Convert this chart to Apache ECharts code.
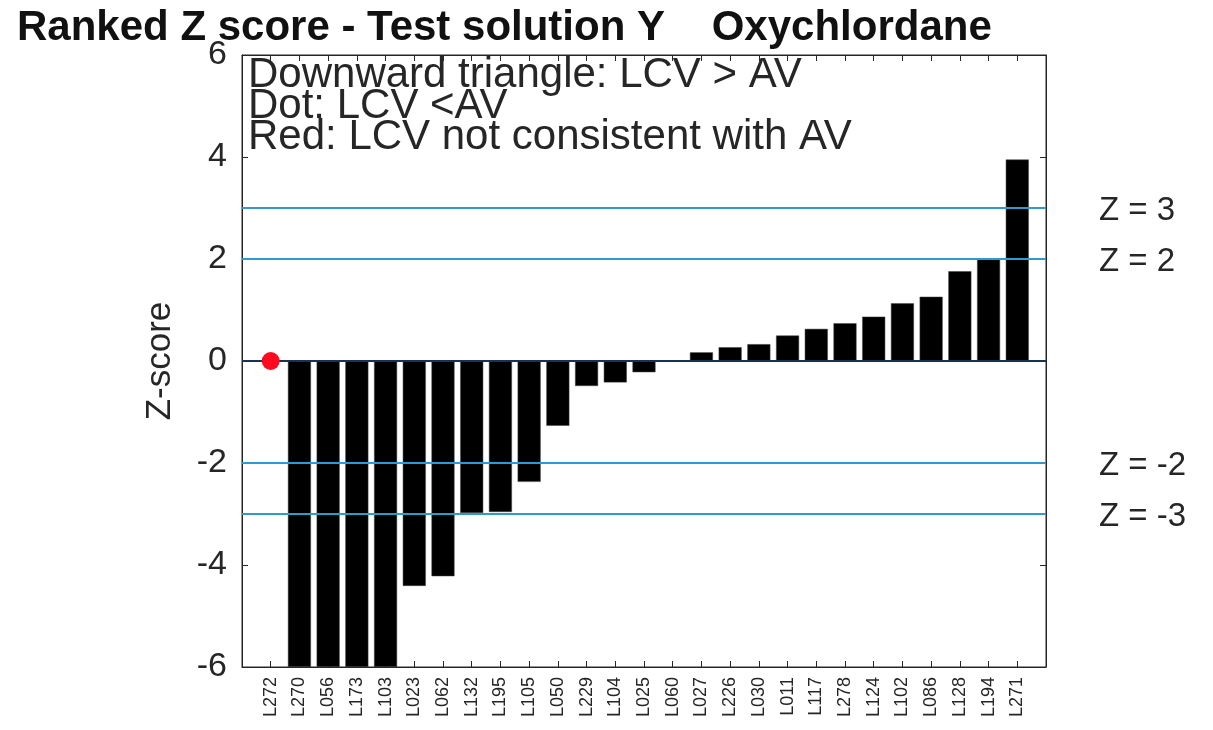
<!DOCTYPE html>
<html>
<head>
<meta charset="utf-8">
<script src="https://cdn.jsdelivr.net/npm/echarts@6/dist/echarts.min.js"></script>
<style>
  html, body { margin: 0; padding: 0; background: #ffffff; }
  #chart { width: 1213px; height: 730px; }
</style>
</head>
<body>
<div id="chart"></div>
<script>
  // labs in ranked order
  const labs = ['L272', 'L270', 'L056', 'L173', 'L103', 'L023', 'L062', 'L132', 'L195', 'L105',
    'L050', 'L229', 'L104', 'L025', 'L060', 'L027', 'L226', 'L030', 'L011', 'L117',
    'L278', 'L124', 'L102', 'L086', 'L128', 'L194', 'L271'];
  // z-scores (first one is shown as a red dot only)
  const zScores = [0, -6, -6, -6, -6, -4.41, -4.22, -2.98, -2.96, -2.37,
    -1.27, -0.49, -0.42, -0.22, 0, 0.17, 0.27, 0.33, 0.5, 0.63,
    0.74, 0.87, 1.13, 1.26, 1.76, 2.01, 3.95];
  const dotLabs = ['L272'];
  const limits = [3, 2, -2, -3];
  const yTicks = [-6, -4, -2, 0, 2, 4, 6];

  const font = 'Liberation Sans, Arial, sans-serif';
  const ink = '#262626';

  const barData = [];
  const dotData = [];
  labs.forEach((name, i) => {
    if (dotLabs.indexOf(name) >= 0) dotData.push([i + 1, zScores[i]]);
    else barData.push([i + 1, zScores[i]]);
  });

  const chart = echarts.init(document.getElementById('chart'));

  const xCommon = {
    type: 'value',
    min: 0,
    max: labs.length + 1,
    interval: 1,
    splitLine: {show: false},
    axisLine: {onZero: false, lineStyle: {color: ink, width: 1}},
    axisTick: {inside: true, length: 6, lineStyle: {color: ink}}
  };
  const yCommon = {
    type: 'value',
    min: yTicks[0],
    max: yTicks[yTicks.length - 1],
    interval: 2,
    splitLine: {show: false},
    axisLine: {onZero: false, lineStyle: {color: ink, width: 1}},
    axisTick: {inside: true, length: 6, lineStyle: {color: ink}}
  };

  chart.setOption({
    animation: false,
    backgroundColor: '#ffffff',
    title: [{
      text: 'Ranked Z score - Test solution Y    Oxychlordane',
      left: 17, top: 7, padding: 0,
      textStyle: {fontFamily: font, fontSize: 42, fontWeight: 'bold', color: '#111'}
    }, {
      text: 'Downward triangle: LCV > AV\nDot: LCV <AV\nRed: LCV not consistent with AV',
      left: 248, top: 60, padding: 0,
      textStyle: {fontFamily: font, fontSize: 42, fontWeight: 'normal', lineHeight: 31, color: ink}
    }],
    grid: {left: 242, right: 167, top: 55, bottom: 63, show: true, borderColor: ink, borderWidth: 1},
    xAxis: [
      Object.assign({}, xCommon, {
        position: 'bottom',
        axisLabel: {
          rotate: 90, margin: 10, fontSize: 18, fontFamily: font, color: ink,
          formatter: v => labs[v - 1] || ''
        }
      }),
      Object.assign({}, xCommon, {position: 'top', axisLabel: {show: false}})
    ],
    yAxis: [
      Object.assign({}, yCommon, {
        position: 'left',
        name: 'Z-score',
        nameLocation: 'middle',
        nameGap: 64,
        nameTextStyle: {fontFamily: font, fontSize: 35, color: ink},
        axisLabel: {margin: 15, fontSize: 34, fontFamily: font, color: ink}
      }),
      Object.assign({}, yCommon, {position: 'right', axisLabel: {show: false}})
    ],
    series: [{
      type: 'bar',
      data: barData,
      barWidth: 23,
      itemStyle: {color: '#000000', borderColor: '#444', borderWidth: 0.5},
      z: 2
    }, {
      type: 'line',
      data: [],
      z: 5,
      markLine: {
        silent: true,
        symbol: 'none',
        animation: false,
        data: limits.map(v => ({
          yAxis: v,
          lineStyle: {color: '#3399cc', width: 2, type: 'solid'},
          label: {
            show: true, position: 'end', distance: 53, offset: [0, 3],
            formatter: 'Z = ' + v,
            fontFamily: font, fontSize: 33, color: ink
          }
        })).concat([{
          yAxis: 0,
          lineStyle: {color: '#1c3050', width: 2, type: 'solid'},
          label: {show: false}
        }])
      }
    }, {
      type: 'scatter',
      data: dotData,
      symbol: 'circle',
      symbolSize: 18,
      itemStyle: {color: '#ff0a1e', opacity: 1},
      z: 10
    }]
  });
</script>
</body>
</html>
